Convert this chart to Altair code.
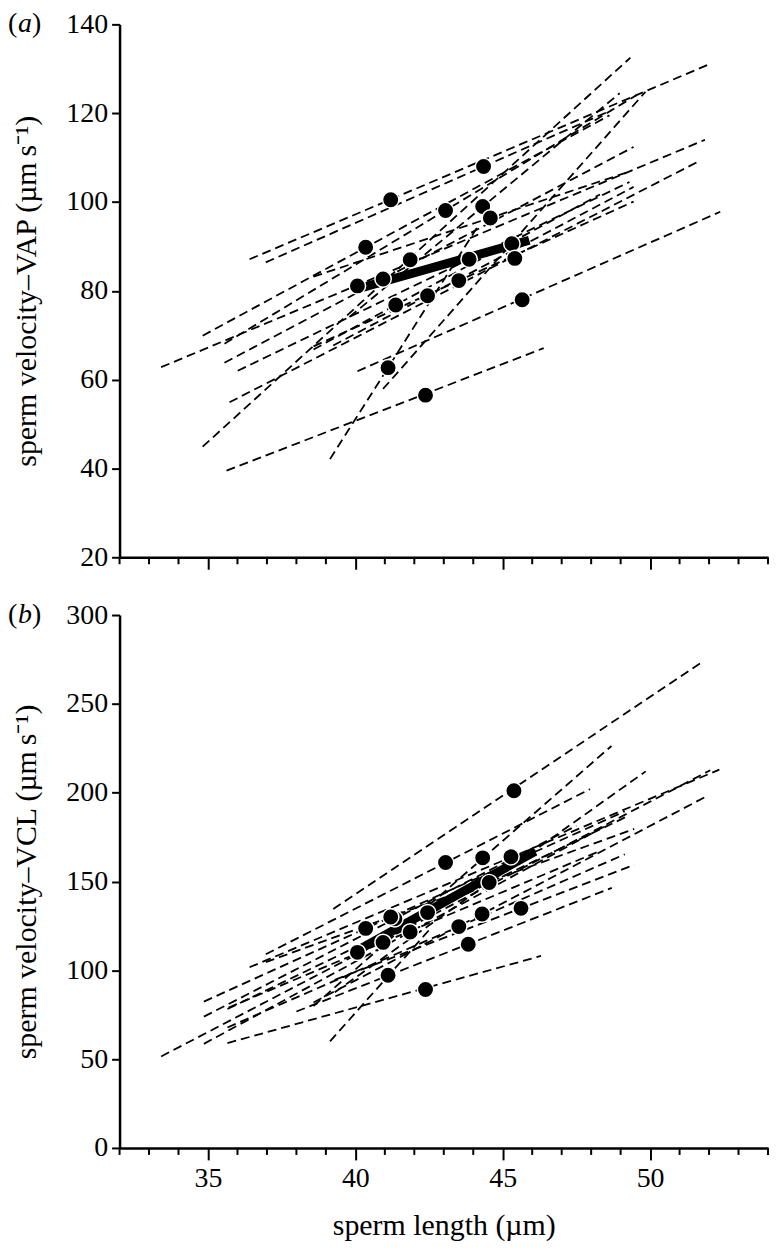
import altair as alt
import pandas as pd

FONT = "Liberation Serif"
W, H = 651, 535

# x axis
x_domain = [32, 54]
x_major = [35, 40, 45, 50]
x_minor = [32, 33, 34, 36, 37, 38, 39, 41, 42, 43, 44, 46, 47, 48, 49, 51, 52, 53, 54]

# ---------- panel (a): VAP ----------
vap_x = [40.07, 40.94, 40.35, 41.20, 41.86, 41.37, 42.45, 41.11, 42.38,
         43.06, 43.51, 43.86, 44.35, 44.32, 44.58, 45.31, 45.41, 45.66]
vap_y = [81.1, 82.65, 89.8, 100.5, 87.0, 76.8, 78.9, 62.7, 56.5,
         98.1, 82.3, 87.1, 108.0, 99.0, 96.4, 90.6, 87.3, 78.0]
# within-species regression lines (start x, start y, end x, end y)
vap_x1 = [33.41, 35.56, 34.82, 36.41, 34.82, 38.58, 39.25, 39.14, 35.63,
          35.56, 38.58, 36.01, 36.96, 39.80, 38.58, 40.94, 35.73, 40.07]
vap_y1 = [62.8, 63.8, 69.9, 87.1, 44.9, 66.8, 67.7, 42.1, 39.5,
          68.1, 67.5, 62.0, 86.4, 74.1, 83.2, 57.9, 54.9, 61.9]
vap_x2 = [51.86, 49.44, 48.62, 52.07, 49.33, 48.30, 49.44, 44.20, 46.39,
          49.55, 49.44, 49.30, 48.70, 48.97, 49.28, 49.84, 51.72, 52.38]
vap_y2 = [114.0, 112.4, 119.5, 131.2, 132.5, 101.7, 103.4, 95.0, 67.1,
          124.1, 100.1, 104.5, 120.7, 124.5, 106.8, 124.8, 109.4, 97.8]
vap_fit_x = [40.0, 45.9]
vap_fit_y = [80.3, 91.4]

# ---------- panel (b): VCL ----------
vcl_x = [45.38, 43.06, 44.32, 45.28, 44.54, 42.45, 41.34, 44.30, 45.62,
         40.35, 41.86, 43.51, 40.94, 43.83, 40.07, 41.11, 42.38, 41.20]
vcl_y = [201.1, 160.7, 163.3, 163.9, 149.4, 132.5, 129.0, 131.7, 134.9,
         123.6, 121.6, 124.6, 115.7, 114.7, 110.1, 97.2, 89.2, 130.0]
vcl_x1 = [39.25, 36.96, 38.58, 36.41, 39.30, 35.66, 34.86, 38.58, 39.30,
          34.86, 34.86, 35.66, 35.70, 38.00, 33.41, 39.14, 35.66, 36.96]
vcl_y1 = [134.5, 109.0, 79.9, 101.7, 87.6, 78.2, 73.9, 81.9, 94.6,
          82.4, 58.6, 67.8, 79.0, 76.8, 51.5, 60.0, 59.0, 104.6]
vcl_x2 = [51.72, 47.96, 48.69, 52.35, 49.85, 49.25, 47.50, 51.93, 49.46,
          49.14, 48.50, 49.14, 48.20, 48.70, 52.04, 42.60, 46.30, 49.46]
vcl_y2 = [273.0, 202.0, 226.3, 213.0, 212.0, 186.9, 181.4, 198.1, 159.4,
          189.5, 181.4, 165.3, 166.5, 146.4, 212.6, 124.5, 108.1, 179.6]
vcl_fit_x = [40.0, 46.1]
vcl_fit_y = [110.5, 167.0]

AX = dict(domainColor="black", domainWidth=2.5, tickColor="black", tickWidth=2,
          labelFont=FONT, labelFontSize=28, labelColor="black",
          titleFont=FONT, titleFontSize=30, titleFontWeight="normal",
          titleColor="black", grid=False)


def panel(px, py, x1, y1, x2, y2, fx, fy, ydom, yvals, ytitle, tag, bottom):
    pts = pd.DataFrame({"x": px, "y": py})
    rows = []
    for i, (a, b, c, d) in enumerate(zip(x1, y1, x2, y2)):
        rows.append({"id": i, "x": a, "y": b})
        rows.append({"id": i, "x": c, "y": d})
    lines = pd.DataFrame(rows)
    fit = pd.DataFrame({"x": fx, "y": fy})
    minor = pd.DataFrame({"m": x_minor})

    xs = alt.Scale(domain=x_domain, nice=False, zero=False)
    ys = alt.Scale(domain=ydom, nice=False, zero=False)

    if bottom:
        xax = alt.Axis(values=x_major, tickSize=12, labelPadding=5,
                       title="sperm length (µm)", titlePadding=18, **AX)
    else:
        xax = alt.Axis(values=x_major, tickSize=12, labels=False, title=None, **AX)
    yax = alt.Axis(values=yvals, tickSize=8, labelPadding=4, title=ytitle,
                   titlePadding=24, **AX)

    dashed = alt.Chart(lines).mark_line(
        color="black", strokeWidth=1.8, strokeDash=[9, 5]
    ).encode(
        x=alt.X("x:Q", scale=xs, axis=xax),
        y=alt.Y("y:Q", scale=ys, axis=yax),
        detail="id:N",
    )
    thick = alt.Chart(fit).mark_line(color="black", strokeWidth=9).encode(
        x=alt.X("x:Q", scale=xs), y=alt.Y("y:Q", scale=ys)
    )
    dots = alt.Chart(pts).mark_circle(
        size=270, color="black", opacity=1, stroke="white", strokeWidth=1.5
    ).encode(x=alt.X("x:Q", scale=xs), y=alt.Y("y:Q", scale=ys))
    minor_ticks = alt.Chart(minor).mark_rule(color="black", strokeWidth=2).encode(
        x=alt.X("m:Q", scale=xs), y=alt.value(H), y2=alt.value(H + 7)
    )
    one = pd.DataFrame({"k": [0]})
    lp = alt.Chart(one).mark_text(text="(", font=FONT, fontSize=28, align="left",
                                  baseline="middle", color="black").encode(
        x=alt.value(-112), y=alt.value(0))
    lt = alt.Chart(one).mark_text(text=tag, font=FONT, fontSize=28, fontStyle="italic",
                                  align="left", baseline="middle", color="black").encode(
        x=alt.value(-102), y=alt.value(0))
    rp = alt.Chart(one).mark_text(text=")", font=FONT, fontSize=28, align="left",
                                  baseline="middle", color="black").encode(
        x=alt.value(-88), y=alt.value(0))
    return alt.layer(dashed, thick, dots, minor_ticks, lp, lt, rp).properties(width=W, height=H)


top = panel(vap_x, vap_y, vap_x1, vap_y1, vap_x2, vap_y2, vap_fit_x, vap_fit_y,
            [20, 140], [20, 40, 60, 80, 100, 120, 140],
            "sperm velocity–VAP (µm\u2009s⁻¹)", "a", False)
bot = panel(vcl_x, vcl_y, vcl_x1, vcl_y1, vcl_x2, vcl_y2, vcl_fit_x, vcl_fit_y,
            [0, 300], [0, 50, 100, 150, 200, 250, 300],
            "sperm velocity–VCL (µm\u2009s⁻¹)", "b", True)

chart = alt.vconcat(top, bot, spacing=30).properties(
    padding={"left": 0, "top": 0, "right": 0, "bottom": 0},
    background="white",
).configure_view(stroke=None)

chart.save("out.html", embed_options={"renderer": "svg", "actions": False})
